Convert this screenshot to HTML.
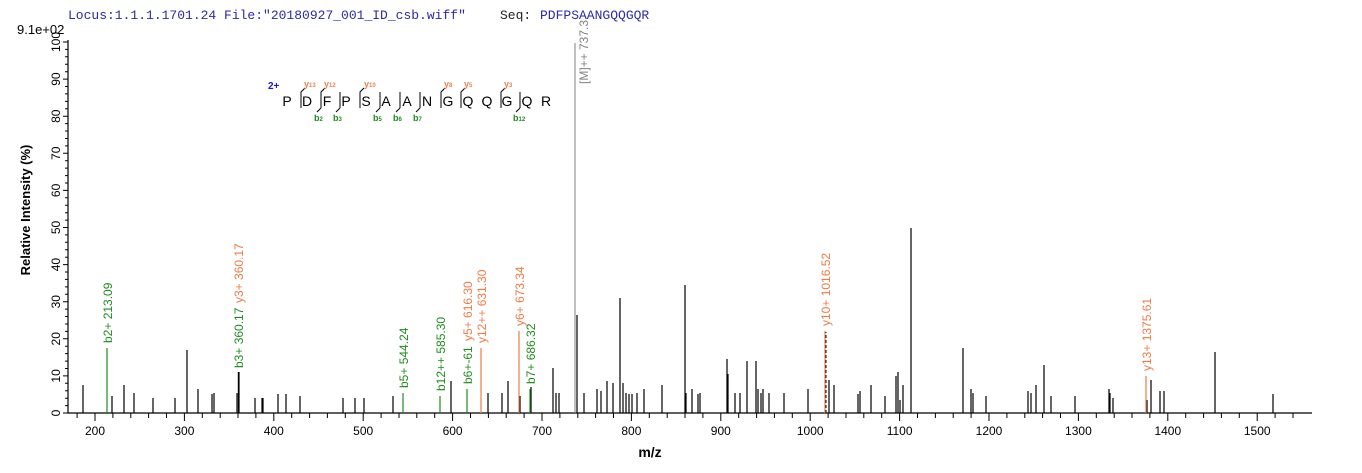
<!DOCTYPE html>
<html><head><meta charset="utf-8"><style>
html,body{margin:0;padding:0;background:#fff;}
svg{display:block;font-family:"Liberation Sans",Arial,sans-serif;}
</style></head><body>
<svg width="1362" height="473" viewBox="0 0 1362 473" xmlns="http://www.w3.org/2000/svg">
<text x="68" y="19" font-family="Liberation Mono,monospace" font-size="13" fill="#2a2aa8">Locus:1.1.1.1701.24 File:"20180927_001_ID_csb.wiff"</text>
<text x="500" y="19" font-family="Liberation Mono,monospace" font-size="13" fill="#222">Seq:</text>
<text x="540" y="19" font-family="Liberation Mono,monospace" font-size="13" fill="#2a2aa8">PDFPSAANGQQGQR</text>
<text x="17" y="34" font-size="13" fill="#000">9.1e+02</text>

<!-- axes -->
<path d="M68 40 V413 H1312" stroke="#000" stroke-width="1.2" fill="none"/>
<path stroke="#000" stroke-width="1" d="M63 413H68M65 405.6H68M65 398.2H68M65 390.7H68M65 383.3H68M63 375.9H68M65 368.5H68M65 361.1H68M65 353.6H68M65 346.2H68M63 338.8H68M65 331.4H68M65 324H68M65 316.5H68M65 309.1H68M63 301.7H68M65 294.3H68M65 286.9H68M65 279.4H68M65 272H68M63 264.6H68M65 257.2H68M65 249.8H68M65 242.3H68M65 234.9H68M63 227.5H68M65 220.1H68M65 212.7H68M65 205.2H68M65 197.8H68M63 190.4H68M65 183H68M65 175.6H68M65 168.1H68M65 160.7H68M63 153.3H68M65 145.9H68M65 138.5H68M65 131H68M65 123.6H68M63 116.2H68M65 108.8H68M65 101.4H68M65 93.9H68M65 86.5H68M63 79.1H68M65 71.7H68M65 64.3H68M65 56.8H68M65 49.4H68M63 42H68"/>
<g font-size="12" fill="#000" text-anchor="middle">
<text transform="translate(60,413) rotate(-90)">0</text>
<text transform="translate(60,375.9) rotate(-90)">10</text>
<text transform="translate(60,338.8) rotate(-90)">20</text>
<text transform="translate(60,301.7) rotate(-90)">30</text>
<text transform="translate(60,264.6) rotate(-90)">40</text>
<text transform="translate(60,227.5) rotate(-90)">50</text>
<text transform="translate(60,190.4) rotate(-90)">60</text>
<text transform="translate(60,153.3) rotate(-90)">70</text>
<text transform="translate(60,116.2) rotate(-90)">80</text>
<text transform="translate(60,79.1) rotate(-90)">90</text>
<text transform="translate(60,42) rotate(-90)">100</text>
</g>
<text transform="translate(30,210) rotate(-90)" font-size="13" font-weight="bold" text-anchor="middle">Relative   Intensity (%)</text>

<path stroke="#000" stroke-width="1" d="M77.1 413v5M95 413v8M112.9 413v5M130.8 413v5M148.6 413v5M166.5 413v5M184.4 413v8M202.3 413v5M220.2 413v5M238 413v5M255.9 413v5M273.8 413v8M291.7 413v5M309.6 413v5M327.4 413v5M345.3 413v5M363.2 413v8M381.1 413v5M399 413v5M416.8 413v5M434.7 413v5M452.6 413v8M470.5 413v5M488.4 413v5M506.2 413v5M524.1 413v5M542 413v8M559.9 413v5M577.8 413v5M595.6 413v5M613.5 413v5M631.4 413v8M649.3 413v5M667.2 413v5M685 413v5M702.9 413v5M720.8 413v8M738.7 413v5M756.6 413v5M774.4 413v5M792.3 413v5M810.2 413v8M828.1 413v5M846 413v5M863.8 413v5M881.7 413v5M899.6 413v8M917.5 413v5M935.4 413v5M953.2 413v5M971.1 413v5M989 413v8M1006.9 413v5M1024.8 413v5M1042.6 413v5M1060.5 413v5M1078.4 413v8M1096.3 413v5M1114.2 413v5M1132 413v5M1149.9 413v5M1167.8 413v8M1185.7 413v5M1203.6 413v5M1221.4 413v5M1239.3 413v5M1257.2 413v8M1275.1 413v5M1293 413v5"/>
<g font-size="12" fill="#000" text-anchor="middle">
<text x="95" y="435">200</text><text x="184.4" y="435">300</text><text x="273.8" y="435">400</text><text x="363.2" y="435">500</text><text x="452.6" y="435">600</text><text x="542" y="435">700</text><text x="631.4" y="435">800</text><text x="720.8" y="435">900</text><text x="810.2" y="435">1000</text><text x="899.6" y="435">1100</text><text x="989" y="435">1200</text><text x="1078.4" y="435">1300</text><text x="1167.8" y="435">1400</text><text x="1257.2" y="435">1500</text>
</g>
<text x="650" y="457" font-size="14" font-weight="bold" text-anchor="middle">m/z</text>

<!-- black peaks -->
<path stroke="#000" stroke-width="1.2" fill="none" d="M83 413V385M112 413V396M124 413V385M134 413V393M153 413V398M175 413V398M187 413V350M198 413V389M212 413V394M214 413V393M237 413V393M239 413V372M255 413V398M262 413V398M263 413V398M278 413V394M286 413V394M300 413V396M343 413V398M355 413V398M364 413V398M393 413V396M451 413V381M488 413V393M502 413V393M508 413V381M520 413V396M531 413V387M553 413V368M556 413V393M559 413V393M577 413V315M584 413V393M597 413V389M601 413V391M607 413V381M613 413V383M620 413V298M623 413V383M626 413V393M629 413V394M632 413V394M637 413V393M644 413V389M662 413V385M685 413V285M686 413V393M692 413V389M698 413V394M700 413V393M727 413V359M728 413V374M735 413V393M740 413V393M747 413V361M756 413V361M758 413V389M761 413V393M763 413V389M769 413V393M784 413V393M808 413V389M829 413V380M834 413V385M858 413V394M860 413V391M871 413V385M885 413V396M896 413V376M898 413V372M900 413V400M903 413V385M911 413V228M963 413V348M971 413V389M973 413V393M986 413V396M1028 413V391M1031 413V393M1036 413V385M1044 413V365M1051 413V396M1075 413V396M1109 413V389M1110 413V393M1113 413V398M1147 413V400M1151 413V380M1160 413V391M1164 413V391M1215 413V352M1273 413V394"/>

<!-- annotated peaks -->
<path stroke="#808080" stroke-width="1" d="M575 413V43"/>
<g stroke="#1e8c1e" stroke-width="1.2">
<path d="M107 413V348M403 413V393M440 413V396M467 413V389M530 413V389"/>
</g>
<path stroke="#000" stroke-width="1.4" d="M238.5 413V372"/>
<g stroke="#f07a45" stroke-width="1.2">
<path d="M481 413V348M519 413V331M825 413V331M1146 413V376"/>
</g>
<path stroke="#000" stroke-width="1" stroke-dasharray="3,2" d="M826 413V332"/>

<g font-size="12" fill="#1e8c1e">
<text transform="translate(112,343) rotate(-90)">b2+ 213.09</text>
<text transform="translate(243,368) rotate(-90)">b3+ 360.17</text>
<text transform="translate(408,388) rotate(-90)">b5+ 544.24</text>
<text transform="translate(445,391) rotate(-90)">b12++ 585.30</text>
<text transform="translate(472,384) rotate(-90)">b6+-61</text>
<text transform="translate(535,384) rotate(-90)">b7+ 686.32</text>
</g>
<g font-size="12" fill="#f07a45">
<text transform="translate(243,303) rotate(-90)">y3+ 360.17</text>
<text transform="translate(472,341) rotate(-90)">y5+ 616.30</text>
<text transform="translate(486,343) rotate(-90)">y12++ 631.30</text>
<text transform="translate(524,326) rotate(-90)">y6+ 673.34</text>
<text transform="translate(830,326) rotate(-90)">y10+ 1016.52</text>
<text transform="translate(1151,371) rotate(-90)">y13+ 1375.61</text>
</g>
<text transform="translate(588,84) rotate(-90)" font-size="12" fill="#808080">[M]++ 737.3</text>

<!-- sequence -->
<text x="268" y="89" font-size="10" font-weight="bold" fill="#1a1ac0">2+</text>
<g font-size="14" fill="#000" text-anchor="middle">
<text x="287" y="106">P</text><text x="307" y="106">D</text><text x="327" y="106">F</text><text x="346" y="106">P</text><text x="366" y="106">S</text><text x="386" y="106">A</text><text x="407" y="106">A</text><text x="427" y="106">N</text><text x="448" y="106">G</text><text x="468" y="106">Q</text><text x="487" y="106">Q</text><text x="507" y="106">G</text><text x="527" y="106">Q</text><text x="546" y="106">R</text>
</g>
<path stroke="#000" stroke-width="1" fill="none" d="M301 108V92L305 88M321 108L317 112M321 108V92L325 88M340 108L336 112M340 108V92M360 108V92L364 88M380 108L376 112M380 108V92M400 108L396 112M400 108V92M420 108L416 112M420 108V92M441 108V92L445 88M461 108V92L465 88M501 108V92L505 88M520 108L516 112M520 108V92"/>
<g font-size="9" fill="#f08050" font-weight="bold">
<text x="304" y="87">y<tspan font-size="6">13</tspan></text>
<text x="324" y="87">y<tspan font-size="6">12</tspan></text>
<text x="364" y="87">y<tspan font-size="6">10</tspan></text>
<text x="444" y="87">y<tspan font-size="6">8</tspan></text>
<text x="464" y="87">y<tspan font-size="6">5</tspan></text>
<text x="504" y="87">y<tspan font-size="6">3</tspan></text>
</g>
<g font-size="9" fill="#1e8c1e" font-weight="bold">
<text x="314" y="121">b<tspan font-size="6">2</tspan></text>
<text x="333" y="121">b<tspan font-size="6">3</tspan></text>
<text x="373" y="121">b<tspan font-size="6">5</tspan></text>
<text x="393" y="121">b<tspan font-size="6">6</tspan></text>
<text x="413" y="121">b<tspan font-size="6">7</tspan></text>
<text x="513" y="121">b<tspan font-size="6">12</tspan></text>
</g>
</svg>
</body></html>
